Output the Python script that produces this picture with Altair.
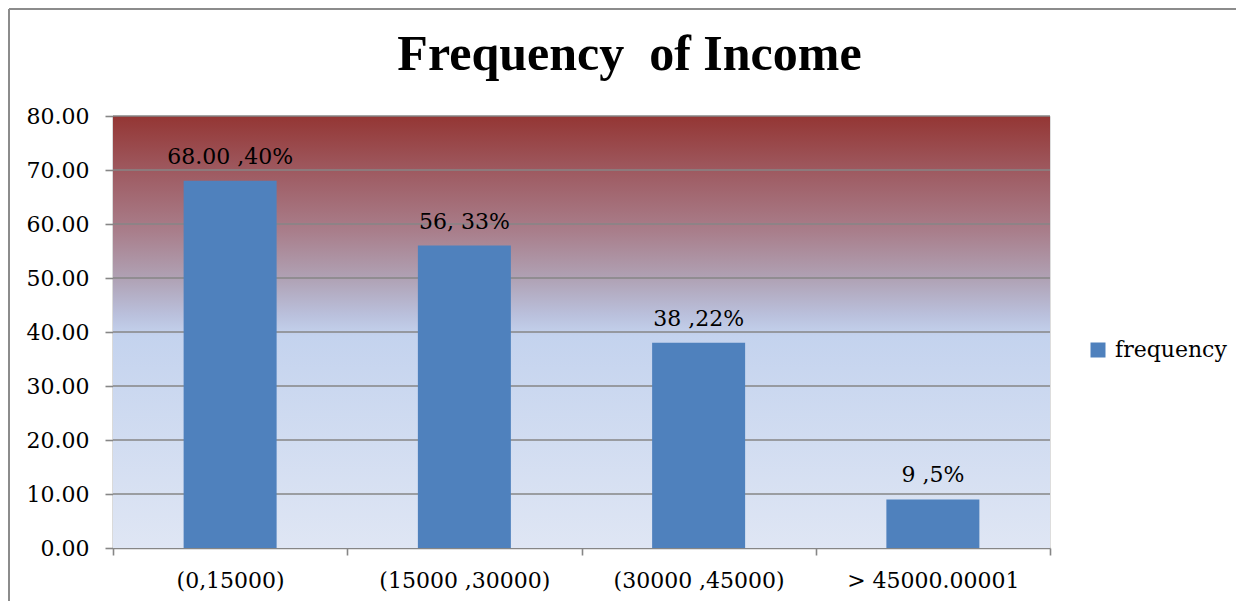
import altair as alt
import pandas as pd

categories = ["(0,15000)", "(15000 ,30000)", "(30000 ,45000)", "> 45000.00001"]
frequency = [68, 56, 38, 9]
bar_labels = ["68.00 ,40%", "56, 33%", "38 ,22%", "9 ,5%"]
series_name = ["frequency"] * 4
y_ticks = [0, 10, 20, 30, 40, 50, 60, 70, 80]
grid_values = [10, 20, 30, 40, 50, 60, 70, 80]
title_text = "Frequency\u00a0 of Income"

df = pd.DataFrame({"cat": categories, "freq": frequency, "label": bar_labels, "series": series_name})
grid_df = pd.DataFrame({"g": grid_values})
bg_df = pd.DataFrame({"a": [0]})

W, H = 937, 432
FONT = "DejaVu Serif"
GRAY = "#868686"

yscale = alt.Scale(domain=[0, 80])

gradient = alt.Gradient(
    gradient="linear",
    stops=[
        alt.GradientStop(color="#943634", offset=0),
        alt.GradientStop(color="#A06068", offset=0.15),
        alt.GradientStop(color="#A97F8C", offset=0.27),
        alt.GradientStop(color="#B0A3B6", offset=0.38),
        alt.GradientStop(color="#BAC0DC", offset=0.46),
        alt.GradientStop(color="#C4D3EE", offset=0.51),
        alt.GradientStop(color="#DFE6F4", offset=1),
    ],
    x1=0, x2=0, y1=0, y2=1,
)

background = alt.Chart(bg_df).mark_rect(fill=gradient).encode(
    x=alt.value(0), x2=alt.value("width"), y=alt.value(0), y2=alt.value("height")
)

grid = alt.Chart(grid_df).mark_rule(color=GRAY, strokeWidth=1.6).encode(
    y=alt.Y("g:Q", scale=yscale),
    x=alt.value(0),
    x2=alt.value("width"),
)

xaxis = alt.Axis(
    title=None, labelAngle=0, tickBand="extent", tickSize=7, tickColor=GRAY,
    tickWidth=1.6, domainColor=GRAY, domainWidth=1.6, labelFont=FONT,
    labelFontSize=22, labelColor="black", labelPadding=15,
)
xscale = alt.Scale(paddingInner=0, paddingOuter=0)

bars = alt.Chart(df).mark_bar(color="#4F81BD", width=alt.RelativeBandSize(0.397)).encode(
    x=alt.X("cat:N", sort=categories, scale=xscale, axis=xaxis),
    y=alt.Y(
        "freq:Q",
        scale=yscale,
        axis=alt.Axis(
            title=None, values=y_ticks, format=".2f", grid=False, tickSize=8,
            tickColor=GRAY, tickWidth=1.6, domainColor=GRAY, domainWidth=1.6,
            labelFont=FONT, labelFontSize=22, labelColor="black", labelPadding=16,
        ),
    ),
    color=alt.Color(
        "series:N",
        scale=alt.Scale(range=["#4F81BD"]),
        legend=alt.Legend(
            title=None, orient="none", legendX=974, legendY=223, symbolType="square",
            symbolSize=225, symbolStrokeWidth=0, symbolOpacity=1, labelFont=FONT,
            labelFontSize=22, labelColor="black", labelOffset=6, padding=0,
        ),
    ),
)

texts = alt.Chart(df).mark_text(
    font=FONT, fontSize=22, color="black", baseline="alphabetic", dy=-17
).encode(
    x=alt.X("cat:N", sort=categories, scale=xscale, axis=xaxis),
    y=alt.Y("freq:Q", scale=yscale),
    text="label:N",
)

border_left = alt.Chart(bg_df).mark_rule(color="#8C8C8C", strokeWidth=2).encode(
    x=alt.value(-104), y=alt.value(-107), y2=alt.value(500)
)
border_top = alt.Chart(bg_df).mark_rule(color="#8C8C8C", strokeWidth=2).encode(
    x=alt.value(-104), x2=alt.value(1123), y=alt.value(-107)
)

chart = alt.layer(background, grid, bars, texts, border_left, border_top).properties(
    width=W,
    height=H,
    autosize=alt.AutoSizeParams(type="none"),
    padding={"left": 105, "top": 108, "right": 186, "bottom": 53},
    title=alt.TitleParams(
        text=title_text, font="Liberation Serif", fontSize=50,
        fontWeight="bold", color="black", frame="group", anchor="middle",
        baseline="alphabetic", offset=0, dy=112, dx=48,
    ),
).configure_view(stroke=None).configure_axisX(tickBand="extent").configure(background="white")

chart.save("out.html", embed_options={"renderer": "svg", "actions": False})
